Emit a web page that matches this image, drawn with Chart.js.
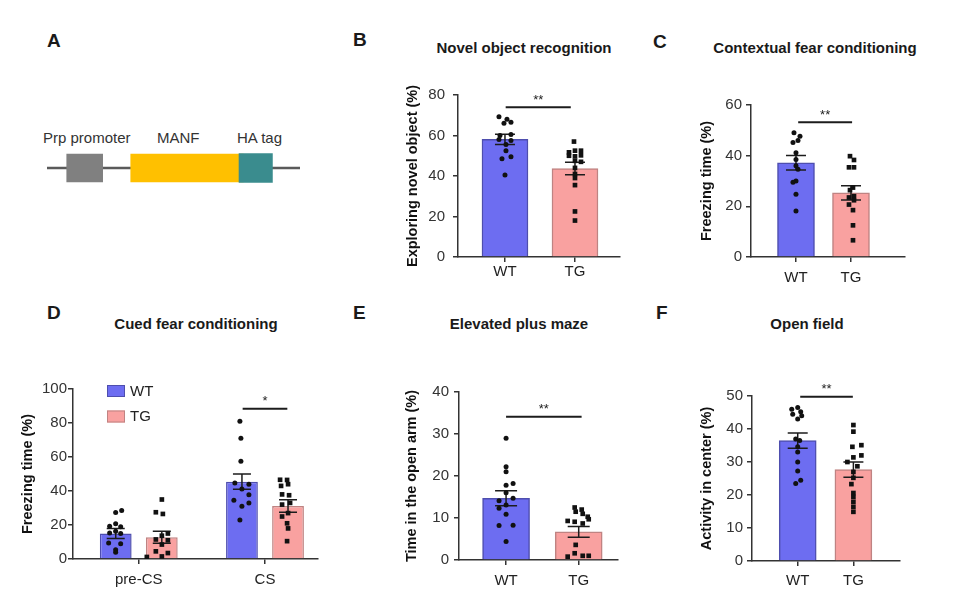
<!DOCTYPE html>
<html><head><meta charset="utf-8">
<script src="https://cdn.jsdelivr.net/npm/chart.js@4.4.1/dist/chart.umd.min.js"></script>
<style>
html,body{margin:0;padding:0;background:#fff;width:960px;height:612px;overflow:hidden;}
body{position:relative;font-family:"Liberation Sans",Arial,Helvetica,sans-serif;}
canvas{position:absolute;}
.t{position:absolute;line-height:1;white-space:nowrap;color:#1a1a1a;}
.L{font-size:19px;font-weight:bold;}
.T{font-size:15px;font-weight:bold;transform:translateX(-50%);}
.a{font-size:15px;color:#333;}
</style></head><body>
<div class="t L" style="left:47px;top:31px">A</div>
<div class="t L" style="left:353px;top:30px">B</div>
<div class="t L" style="left:653px;top:32px">C</div>
<div class="t L" style="left:47px;top:303px">D</div>
<div class="t L" style="left:353px;top:303px">E</div>
<div class="t L" style="left:656px;top:303px">F</div>
<div class="t T" style="left:524px;top:40px">Novel object recognition</div>
<div class="t T" style="left:815px;top:40px">Contextual fear conditioning</div>
<div class="t T" style="left:196px;top:316px">Cued fear conditioning</div>
<div class="t T" style="left:519px;top:316px">Elevated plus maze</div>
<div class="t T" style="left:807px;top:316px">Open field</div>
<div class="t a" style="left:43px;top:130px">Prp promoter</div>
<div class="t a" style="left:157px;top:130px">MANF</div>
<div class="t a" style="left:237px;top:130px">HA tag</div>
<canvas id="cA" width="253" height="36" style="left:47px;top:150px"></canvas>
<canvas id="cB" width="225" height="227" style="left:400px;top:60px"></canvas>
<canvas id="cC" width="216" height="217" style="left:694px;top:70px"></canvas>
<canvas id="cD" width="308" height="229" style="left:15px;top:360px"></canvas>
<canvas id="cE" width="224" height="230" style="left:399px;top:360px"></canvas>
<canvas id="cF" width="211" height="231" style="left:694px;top:360px"></canvas>
<script>
// ---------- data ----------
const groups = ['WT', 'TG'];
const cuedPhases = ['pre-CS', 'CS'];

// Panel A construct map (relative units along the construct)
const constructParts = ['backbone', 'Prp promoter', 'MANF', 'HA tag'];
const constructStart = [0, 7.8, 33.1, 75.9];
const constructEnd = [100, 22.0, 77.6, 89.1];

// Panel B: Novel object recognition
const bTicks = [0, 20, 40, 60, 80];
const bMeans = [58.1, 43.7];
const bSem = [2.5, 3.1];
const bWT = [69.3, 68, 66.5, 66, 60, 60.5, 58, 57.5, 55.5, 52.5, 49.5, 48.5, 40.5];
const bWTJit = [-6, 2, 6, -1, -5, 6, -6, 6, 1, 1, 6, -3, 0];
const bTG = [57, 51.7, 52.5, 52.5, 50, 49.7, 50.2, 47.5, 47, 44, 41, 39, 35.5, 22.5, 18];
const bTGJit = [-1, -6, 0, 6, -6, 0, 6, 0, 6, 0, 0, 0, 0, 0, 0];

// Panel C: Contextual fear conditioning
const cTicks = [0, 20, 40, 60];
const cMeans = [37.2, 25.3];
const cSem = [2.9, 2.8];
const cWT = [49, 47.7, 46, 45.2, 41.2, 38.5, 36, 34.6, 30, 29.5, 24.8, 18.2];
const cWTJit = [-2, 4, 2, -3, 0, 0, 0, 2, 0, -3, 0, 0];
const cTG = [39.8, 38.3, 35.4, 35.4, 27.4, 26.4, 24, 23.5, 22.4, 20.7, 18.5, 12.5, 6.6];
const cTGJit = [-1, 3, -2, 3, 2, -1, 3, -2, 3, -2, 2, 2, 2];

// Panel D: Cued fear conditioning
const dTicks = [0, 20, 40, 60, 80, 100];
const dWTMeans = [15.0, 45.5];
const dWTSem = [2.9, 4.5];
const dTGMeans = [12.8, 31.2];
const dTGSem = [3.5, 3.7];
const dPreWT = [28.6, 27.4, 20.8, 19.2, 19, 16.3, 15.3, 15, 9.4, 9, 5.5, 4];
const dPreWTJit = [6, 0, 0, -6, 5, 0, -6, 5, -7, 5, 0, 0];
const dPreTG = [35, 27.5, 26.5, 15, 13.7, 11.5, 11, 8.5, 4.5, 3.5, 1.2, 1.5];
const dPreTGJit = [0, -6, 1, 6, 0, -6, 6, 0, -6, 6, -15, 0];
const dCsWT = [81, 71, 57.5, 44.7, 44, 41.2, 37.8, 34.5, 33, 31, 23];
const dCsWTJit = [-2, -1, -1, -7, 7, 0, 7, -8, 7, 0, -2];
const dCsTG = [46.6, 46.5, 44, 43, 38, 37.5, 33, 32, 27, 25, 21, 18, 10.5];
const dCsTGJit = [-8, -1, 0, -7, -6, 1, 2, -6, 0, -6, -1, 0, -1];

// Panel E: Elevated plus maze
const eTicks = [0, 10, 20, 30, 40];
const eMeans = [14.7, 6.7];
const eSem = [1.8, 1.3];
const eWT = [29, 22.2, 21, 18.2, 17.8, 16, 14.7, 14.1, 13.1, 12.3, 10.9, 8.2, 8.3, 4.4];
const eWTJit = [0, 0, 0, 7, 0, 0, 7, -7, 0, -7, 0, -7, 7, 0];
const eTG = [12.5, 12, 11.5, 11, 10.3, 9.7, 9.3, 9.1, 8.7, 3.6, 1.6, 1, 1, 0.8];
const eTGJit = [-4, 3, -3, 4, 9, 10, -11, -4, 4, -3, -4, 4, 10, -11];

// Panel F: Open field
const fTicks = [0, 10, 20, 30, 40, 50];
const fMeans = [36.5, 27.7];
const fSem = [2.3, 2.3];
const fWT = [46.5, 46, 45.2, 44.5, 44, 43, 37, 36.5, 34.6, 33, 30, 27.3, 24.5, 23.5];
const fWTJit = [0, -6, 3, -5, 4, 0, -2, 2, 0, 0, 0, 0, 3, -2];
const fTG = [41.2, 39.2, 35.1, 34.6, 32, 31.4, 30, 28.7, 27, 25.2, 23.3, 20.6, 19.4, 17.9, 16.4, 14.9];
const fTGJit = [0, 0, 8, -1, 8, 0, -6, 4, 0, 0, -2, 0, 0, 0, 0, 0];

// ---------- styles ----------
const FF = '"Liberation Sans", Arial, Helvetica, sans-serif';
Chart.defaults.font.family = FF;
const WT_FILL = '#6D6DF1', WT_LINE = '#4E4EAE';
const TG_FILL = '#F9A1A0', TG_LINE = '#BF8382';
const AX = '#333';
const INK = '#1c1c1c';

// ---------- panel A ----------
const partColors = ['#5a5a5a', '#808080', '#FFC000', '#3A8C8E'];
const partThick = [2, 28, 28, 29];
new Chart(document.getElementById('cA'), {
  type: 'bar',
  data: {
    labels: ['construct'],
    datasets: constructParts.map((p, i) => ({ label: p, data: [[constructStart[i], constructEnd[i]]],
      backgroundColor: partColors[i], barThickness: partThick[i], grouped: false, borderWidth: 0 })).reverse()
  },
  options: {
    indexAxis: 'y', responsive: false, animation: false, events: [],
    layout: { padding: 0 },
    plugins: { legend: { display: false }, tooltip: { enabled: false } },
    scales: { x: { type: 'linear', min: 0, max: 100, display: false }, y: { display: false } }
  }
});

// ---------- plugins ----------
const errorBars = {
  id: 'errorBars',
  afterDatasetDraw(chart, args) {
    const ds = chart.data.datasets[args.index];
    if (!ds.sem) return;
    const ctx = chart.ctx, ys = chart.scales.y, cap = chart.options.plugins.errorBars.cap;
    ctx.save();
    ctx.strokeStyle = INK; ctx.lineWidth = 1.5;
    args.meta.data.forEach((el, i) => {
      const m = ds.data[i].y, s = ds.sem[i];
      const yHi = ys.getPixelForValue(m + s), yLo = ys.getPixelForValue(m - s);
      ctx.beginPath();
      ctx.moveTo(el.x, yHi); ctx.lineTo(el.x, yLo);
      ctx.moveTo(el.x - cap, yHi); ctx.lineTo(el.x + cap, yHi);
      ctx.moveTo(el.x - cap, yLo); ctx.lineTo(el.x + cap, yLo);
      ctx.stroke();
    });
    ctx.restore();
  }
};
const sigBar = {
  id: 'sigBar',
  afterDatasetsDraw(chart) {
    const o = chart.options.plugins.sigBar;
    if (!o || !o.text) return;
    const ctx = chart.ctx, xs = chart.scales.x, ys = chart.scales.y;
    const x1 = xs.getPixelForValue(o.x1), x2 = xs.getPixelForValue(o.x2), y = ys.getPixelForValue(o.y);
    ctx.save();
    ctx.strokeStyle = INK; ctx.lineWidth = 2;
    ctx.beginPath(); ctx.moveTo(x1, y); ctx.lineTo(x2, y); ctx.stroke();
    ctx.fillStyle = INK; ctx.font = '13px ' + FF; ctx.textAlign = 'center'; ctx.textBaseline = 'middle';
    ctx.fillText(o.text, (x1 + x2) / 2, y - 7);
    ctx.restore();
  }
};
const boxLegend = {
  id: 'boxLegend',
  afterDraw(chart) {
    const o = chart.options.plugins.boxLegend;
    if (!o || !o.items) return;
    const ctx = chart.ctx, a = chart.chartArea;
    ctx.save();
    o.items.forEach((it, i) => {
      const x = a.left + o.dx, y = a.top + o.dy + i * o.gap;
      ctx.fillStyle = it.fill; ctx.fillRect(x, y, 18, 12);
      ctx.strokeStyle = it.line; ctx.lineWidth = 1; ctx.strokeRect(x + 0.5, y + 0.5, 17, 11);
      ctx.fillStyle = '#222'; ctx.font = '15px ' + FF; ctx.textAlign = 'left'; ctx.textBaseline = 'middle';
      ctx.fillText(it.text, x + 23, y + 6.5);
    });
    ctx.restore();
  }
};

function dotSet(vals, jit, x0, ppu, style) {
  return {
    type: 'scatter',
    data: vals.map((v, i) => ({ x: x0 + jit[i] / ppu, y: v })),
    pointStyle: style, pointRadius: style === 'rect' ? 3.3 : 2.5,
    backgroundColor: '#111', borderColor: '#111', borderWidth: 0
  };
}

function panel(id, o) {
  const datasets = o.dots.concat(o.bars);
  new Chart(document.getElementById(id), {
    type: 'bar',
    data: { datasets },
    options: {
      responsive: false, animation: false, events: [],
      layout: { padding: { top: o.padTop, right: 5, left: 0, bottom: 0 } },
      plugins: {
        legend: { display: false }, tooltip: { enabled: false },
        errorBars: { cap: o.cap }, sigBar: o.sig, boxLegend: o.legend || {}
      },
      scales: {
        x: {
          type: 'linear', min: o.xMin, max: o.xMax, offset: false,
          afterBuildTicks: s => { s.ticks = o.xs.map(v => ({ value: v })); },
          ticks: { callback: (v, i) => o.labels[i], color: '#222', font: { size: 15 }, padding: o.xPad, maxRotation: 0, autoSkip: false },
          grid: { drawOnChartArea: false, drawTicks: true, tickLength: 5, color: AX, lineWidth: 1.5, offset: false },
          border: { display: true, color: AX, width: 1.5 },
          afterFit: s => { s.height = 30; }
        },
        y: {
          type: 'linear', min: 0, max: o.yTicks[o.yTicks.length - 1],
          afterBuildTicks: s => { s.ticks = o.yTicks.map(v => ({ value: v })); },
          ticks: { color: '#333', font: { size: 15 }, padding: o.yPad },
          grid: { drawOnChartArea: false, drawTicks: true, tickLength: 5, color: AX, lineWidth: 1.5 },
          border: { display: true, color: AX, width: 1.5 },
          title: { display: true, text: o.yTitle, color: '#111', font: { size: 14.5, weight: 'bold' }, padding: { top: 4, bottom: 4 } },
          afterFit: s => { s.width = o.yW; }
        }
      }
    },
    plugins: [errorBars, sigBar, boxLegend]
  });
}

function twoBars(means, sems, thick) {
  return [{
    data: [{ x: 0, y: means[0] }, { x: 1, y: means[1] }], sem: sems,
    backgroundColor: [WT_FILL, TG_FILL], borderColor: [WT_LINE, TG_LINE], borderWidth: 1.5, barThickness: thick
  }];
}

panel('cB', {
  labels: groups, xs: [0, 1], xMin: -0.671, xMax: 1.643, yTicks: bTicks, yTitle: 'Exploring novel object (%)',
  yW: 58, padTop: 35, xPad: 1, yPad: 8, cap: 10,
  bars: twoBars(bMeans, bSem, 46),
  dots: [dotSet(bWT, bWTJit, 0, 70, 'circle'), dotSet(bTG, bTGJit, 1, 70, 'rect')],
  sig: { x1: 0.01, x2: 0.94, y: 74, text: '**' }
});

panel('cC', {
  labels: groups, xs: [0, 1], xMin: -0.818, xMax: 1.982, yTicks: cTicks, yTitle: 'Freezing time (%)',
  yW: 57, padTop: 35, xPad: 7, yPad: 4, cap: 10,
  bars: twoBars(cMeans, cSem, 37),
  dots: [dotSet(cWT, cWTJit, 0, 55, 'circle'), dotSet(cTG, cTGJit, 1, 55, 'rect')],
  sig: { x1: 0.04, x2: 1.02, y: 53.2, text: '**' }
});

const dOff = 0.183;
panel('cD', {
  labels: cuedPhases, xs: [0, 1], xMin: -0.521, xMax: 1.42, yTicks: dTicks, yTitle: 'Freezing time (%)',
  yW: 58, padTop: 29, xPad: 7, yPad: 1, cap: 9,
  bars: [
    { data: [{ x: 0, y: dWTMeans[0] }, { x: 1, y: dWTMeans[1] }], sem: dWTSem, backgroundColor: WT_FILL, borderColor: WT_LINE, borderWidth: 1.5, categoryPercentage: 0.73, barPercentage: 0.69 },
    { data: [{ x: 0, y: dTGMeans[0] }, { x: 1, y: dTGMeans[1] }], sem: dTGSem, backgroundColor: TG_FILL, borderColor: TG_LINE, borderWidth: 1.5, categoryPercentage: 0.73, barPercentage: 0.69 }
  ],
  dots: [dotSet(dPreWT, dPreWTJit, -dOff, 126, 'circle'), dotSet(dPreTG, dPreTGJit, dOff, 126, 'rect'),
         dotSet(dCsWT, dCsWTJit, 1 - dOff, 126, 'circle'), dotSet(dCsTG, dCsTGJit, 1 + dOff, 126, 'rect')],
  sig: { x1: 0.823, x2: 1.177, y: 88.4, text: '*' },
  legend: { dx: 34, dy: -4, gap: 25.5, items: [{ text: groups[0], fill: WT_FILL, line: WT_LINE }, { text: groups[1], fill: TG_FILL, line: TG_LINE }] }
});

panel('cE', {
  labels: groups, xs: [0, 1], xMin: -0.648, xMax: 1.541, yTicks: eTicks, yTitle: 'Time in the open arm (%)',
  yW: 60, padTop: 32, xPad: 7, yPad: 5, cap: 11,
  bars: twoBars(eMeans, eSem, 47),
  dots: [dotSet(eWT, eWTJit, 0, 72.5, 'circle'), dotSet(eTG, eTGJit, 1, 72.5, 'rect')],
  sig: { x1: 0.0, x2: 1.04, y: 34.1, text: '**' }
});

panel('cF', {
  labels: groups, xs: [0, 1], xMin: -0.821, xMax: 1.837, yTicks: fTicks, yTitle: 'Activity in center (%)',
  yW: 58, padTop: 36, xPad: 6, yPad: 4, cap: 10,
  bars: twoBars(fMeans, fSem, 37),
  dots: [dotSet(fWT, fWTJit, 0, 55.8, 'circle'), dotSet(fTG, fTGJit, 1, 55.8, 'rect')],
  sig: { x1: 0.045, x2: 0.99, y: 49.8, text: '**' }
});
</script>
</body></html>
